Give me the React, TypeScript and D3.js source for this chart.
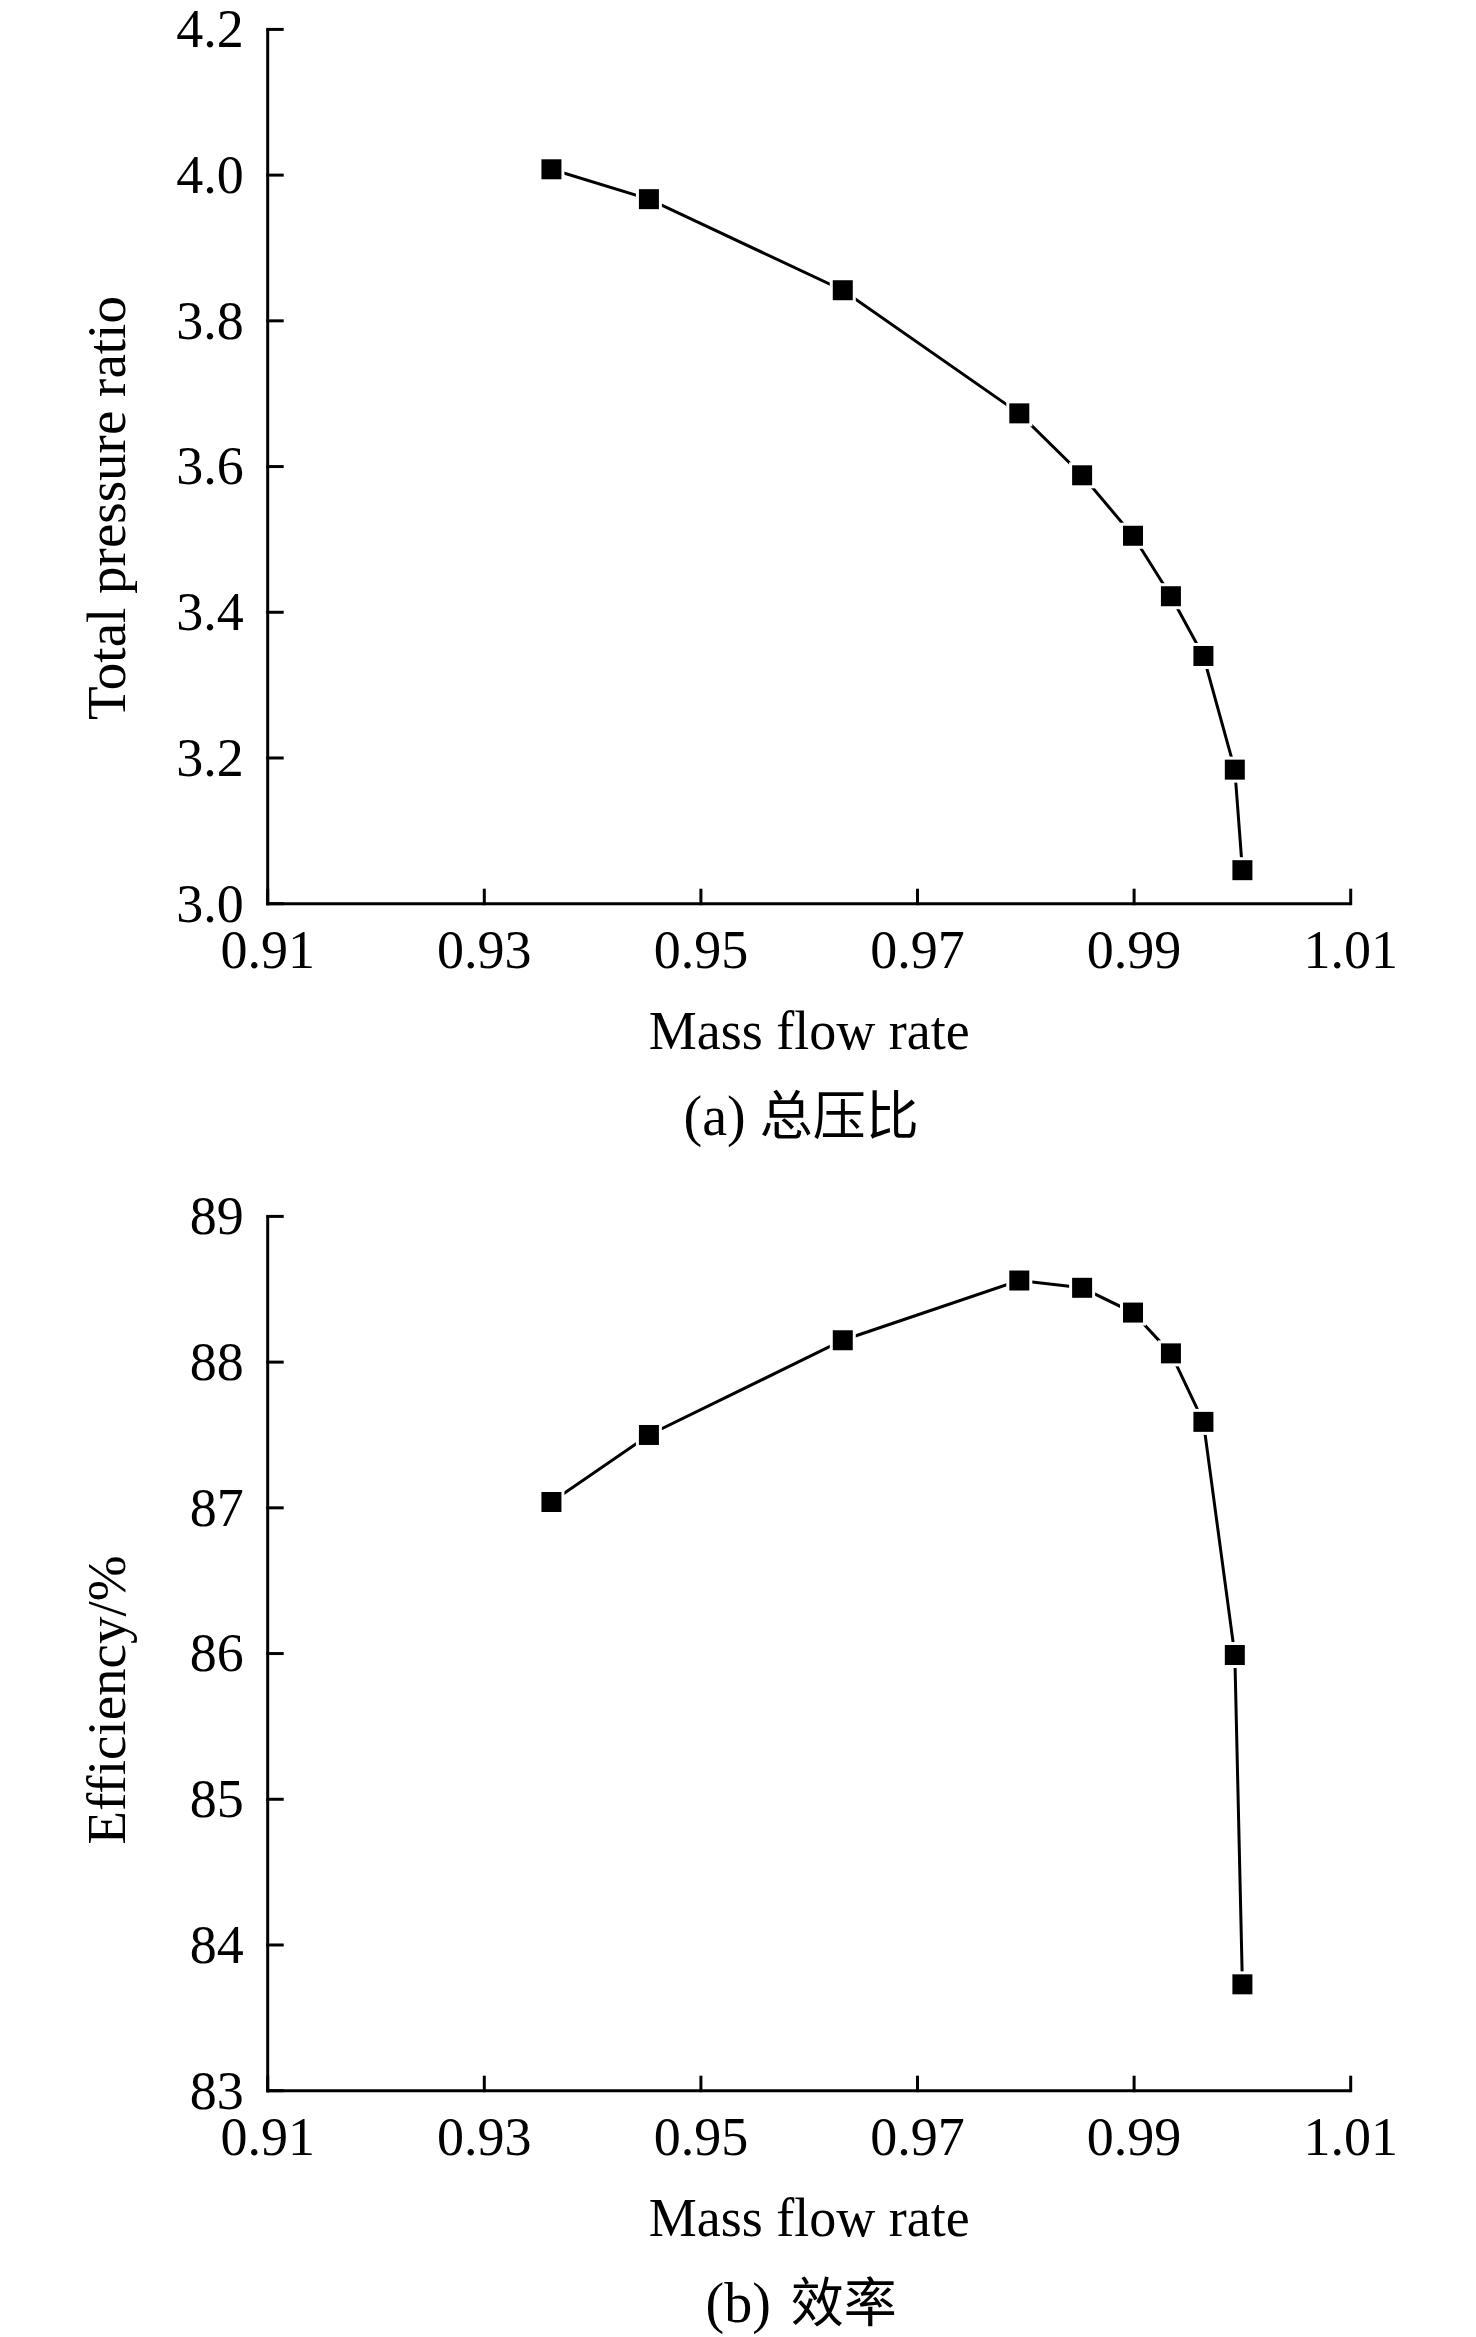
import * as React from "react";
import * as d3 from "d3";

// mass flow rate (shared by both panels)
const massFlow = [0.9362, 0.9452, 0.9631, 0.9794, 0.9852, 0.9899, 0.9934, 0.9964, 0.9993, 1.0];
const pressureRatio = [4.008, 3.967, 3.842, 3.673, 3.588, 3.505, 3.422, 3.34, 3.184, 3.046];
const efficiency = [87.04, 87.5, 88.15, 88.56, 88.51, 88.34, 88.06, 87.59, 85.99, 83.73];

const xTicks = [0.91, 0.93, 0.95, 0.97, 0.99, 1.01];
const pressureTicks = [3.0, 3.2, 3.4, 3.6, 3.8, 4.0, 4.2];
const efficiencyTicks = [83, 84, 85, 86, 87, 88, 89];

const FONT = "'Liberation Serif', 'Times New Roman', 'Noto Sans CJK SC', serif";
const CJK = "'Noto Sans CJK SC', 'Liberation Serif', serif";

const width = 1476;
const height = 2337;
const left = 267.7;
const right = 1350.7;
const plotHeight = 874.3;

type Point = { x: number; y: number };

function Panel({
  top,
  values,
  yDomain,
  yTicks,
  yDigits,
  yTitle,
  yTitleCenter,
  tag,
  caption,
  captionGap,
}: {
  top: number;
  values: number[];
  yDomain: [number, number];
  yTicks: number[];
  yDigits: number;
  yTitle: string;
  yTitleCenter: number;
  tag: string;
  caption: string;
  captionGap: number;
}) {
  const bottom = top + plotHeight;
  const xScale = d3.scaleLinear().domain([0.91, 1.01]).range([left, right]);
  const yScale = d3.scaleLinear().domain(yDomain).range([bottom, top]);

  const data: Point[] = massFlow.map((x, i) => ({ x, y: values[i] }));
  const lineGenerator = d3
    .line<Point>()
    .x((d) => xScale(d.x))
    .y((d) => yScale(d.y));

  const centerX = (left + right) / 2 - 8;

  return (
    <g>
      {/* data */}
      <path d={lineGenerator(data) ?? ""} fill="none" stroke="black" strokeWidth={3} />
      {data.map((d, i) => (
        <rect
          key={i}
          x={xScale(d.x) - 11.5}
          y={yScale(d.y) - 11.5}
          width={23}
          height={23}
          fill="black"
          stroke="white"
          strokeWidth={3}
        />
      ))}

      {/* x axis */}
      <g fontFamily={FONT} fontSize={54} textAnchor="middle">
        <line x1={left} x2={right} y1={bottom} y2={bottom} stroke="black" strokeWidth={3} />
        {xTicks.map((t) => (
          <g key={t} transform={`translate(${xScale(t)}, ${bottom})`}>
            <line y1={1.5} y2={-15} stroke="black" strokeWidth={3} />
            <text y={64}>{t.toFixed(2)}</text>
          </g>
        ))}
        <text x={centerX + 8} y={bottom + 145}>
          Mass flow rate
        </text>
      </g>

      {/* y axis */}
      <g fontFamily={FONT} fontSize={54} textAnchor="end">
        <line x1={left} x2={left} y1={top} y2={bottom + 1.5} stroke="black" strokeWidth={3} />
        {yTicks.map((t) => (
          <g key={t} transform={`translate(${left}, ${yScale(t)})`}>
            <line x1={-1.5} x2={16} stroke="black" strokeWidth={3} />
            <text x={-24} dy="0.33em">
              {t.toFixed(yDigits)}
            </text>
          </g>
        ))}
        <text
          transform={`translate(125, ${yTitleCenter}) rotate(-90)`}
          textAnchor="middle"
          fontSize={55}
        >
          {yTitle}
        </text>
      </g>

      {/* caption */}
      <text
        x={centerX}
        y={bottom + 231}
        fontFamily={FONT}
        fontSize={56}
        textAnchor="middle"
      >
        {tag}
        <tspan dx={captionGap} fontFamily={CJK} fontSize={53}>
          {caption}
        </tspan>
      </text>
    </g>
  );
}

export default function App() {
  return (
    <svg
      width={width}
      height={height}
      style={{ position: "absolute", left: 0, top: 0, background: "white" }}
    >
      <rect width={width} height={height} fill="white" />
      <Panel
        top={29.4}
        values={pressureRatio}
        yDomain={[3.0, 4.2]}
        yTicks={pressureTicks}
        yDigits={1}
        yTitle="Total pressure ratio"
        yTitleCenter={508}
        tag="(a)"
        caption="总压比"
        captionGap={14}
      />
      <Panel
        top={1216.4}
        values={efficiency}
        yDomain={[83, 89]}
        yTicks={efficiencyTicks}
        yDigits={0}
        yTitle="Efficiency/%"
        yTitleCenter={1700}
        tag="(b)"
        caption="效率"
        captionGap={20}
      />
    </svg>
  );
}
